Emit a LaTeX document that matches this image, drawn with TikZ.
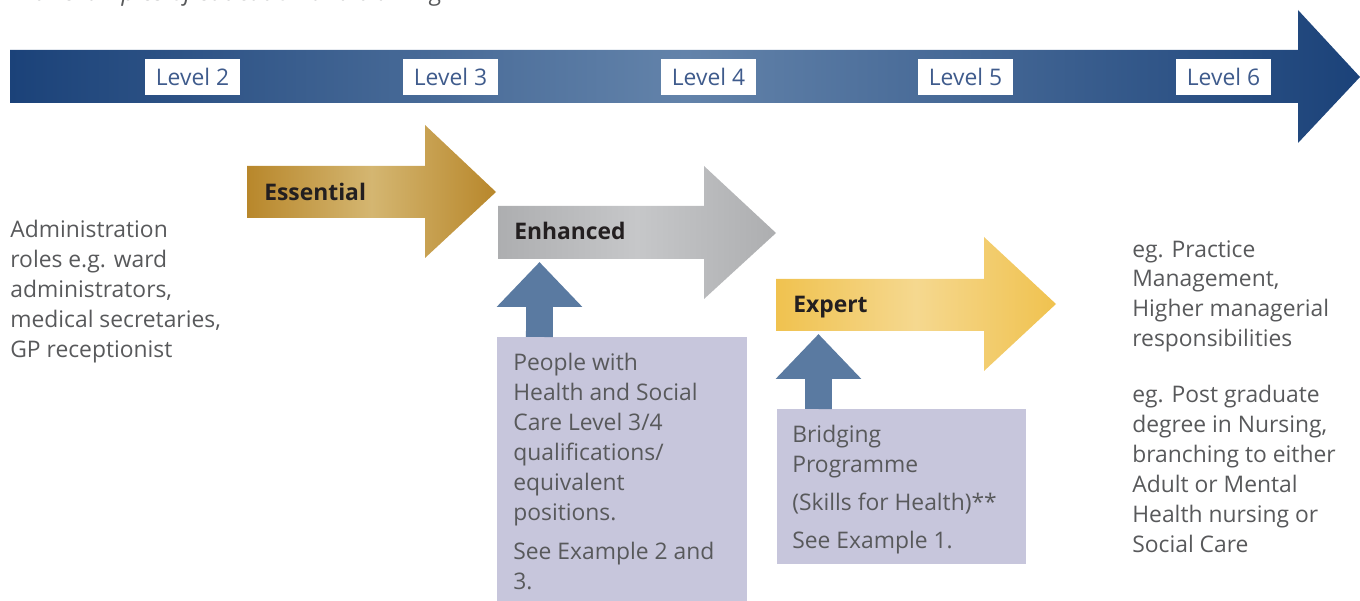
\documentclass[tikz,border=0pt]{standalone}
\usepackage{fontspec}
\setmainfont{Open Sans}
\usetikzlibrary{arrows.meta}

\definecolor{navy}{HTML}{1B4279}
\definecolor{navylight}{HTML}{6383AA}
\definecolor{leveltext}{HTML}{3F5B8C}
\definecolor{gold}{HTML}{B8872B}
\definecolor{goldlight}{HTML}{D4B671}
\definecolor{silver}{HTML}{ADAEB0}
\definecolor{silverlight}{HTML}{C6C7C9}
\definecolor{amber}{HTML}{F0C24F}
\definecolor{amberlight}{HTML}{F5D88F}
\definecolor{upblue}{HTML}{5A7AA1}
\definecolor{lavender}{HTML}{C7C6DC}
\definecolor{bodytext}{HTML}{58595B}
\definecolor{labeltext}{HTML}{231F20}

\begin{document}
\begin{tikzpicture}[x=0.02cm,y=-0.02cm]
\useasboundingbox (0,0) rectangle (1360,601);

\node[anchor=base west, inner sep=0pt, text=bodytext, font=\fontsize{13.8}{17}\selectfont\itshape] (subtitle) at (11,1) {with examples of education and training};

% levels arrow
\shade[left color=navy, right color=navy, middle color=navylight]
    (10,50) -- (1298,50) -- (1298,10) -- (1360,77) -- (1298,143) -- (1298,103) -- (10,103) -- cycle;

\begin{scope}[every node/.style={fill=white, text=leveltext, inner sep=0pt,
              minimum width=1.9cm, minimum height=0.72cm, font=\fontsize{13}{17}\selectfont}]
    \node (level_2) at (192.5,77) {Level 2};
    \node (level_3) at (450.5,77) {Level 3};
    \node (level_4) at (708.5,77) {Level 4};
    \node (level_5) at (965.5,77) {Level 5};
    \node (level_6) at (1223.5,77) {Level 6};
\end{scope}

% stage arrows
\shade[left color=gold, right color=gold, middle color=goldlight]
    (247,166) -- (425,166) -- (425,125) -- (496,192) -- (425,258) -- (425,218) -- (247,218) -- cycle;
\shade[left color=silver, right color=silver, middle color=silverlight]
    (498,206) -- (704,206) -- (704,166) -- (776,233) -- (704,299) -- (704,259) -- (498,259) -- cycle;
\shade[left color=amber, right color=amber, middle color=amberlight]
    (776,279) -- (984,279) -- (984,237) -- (1056,304) -- (984,371) -- (984,331) -- (776,331) -- cycle;

\begin{scope}[every node/.style={anchor=base west, inner sep=0pt, text=labeltext,
              font=\fontsize{13}{17}\selectfont\bfseries}]
    \node (essential) at (264,201) {Essential};
    \node (enhanced) at (514,240) {Enhanced};
    \node (expert) at (793,313) {Expert};
\end{scope}

% entry boxes
\begin{scope}[every node/.style={fill=lavender, anchor=north west, inner sep=0pt}]
    \node[minimum width=5cm, minimum height=5.4cm] (box_people) at (497,337) {};
    \node[minimum width=4.98cm, minimum height=3.1cm] (box_bridging) at (777,409) {};
\end{scope}

\begin{scope}[every node/.style={anchor=north west, inner sep=0pt, align=left, text=bodytext,
              font=\fontsize{13}{17}\selectfont}]
    \node (people_text) at (513,353) {People with\\Health and Social\\Care Level 3/4\\qualifications/\\equivalent\\positions.\\[5.5pt]See Example 2 and\\3.};
    \node (bridging_text) at (792,425) {Bridging\\Programme\\[4.5pt](Skills for Health)**\\[4.5pt]See Example 1.};
    \node (admin_text) at (10,220) {Administration\\roles e.g. ward\\administrators,\\medical secretaries,\\GP receptionist};
    \node (mgmt_text) at (1132,240) {eg. Practice\\Management,\\Higher managerial\\responsibilities};
    \node (nursing_text) at (1132,385) {eg. Post graduate\\degree in Nursing,\\branching to either\\Adult or Mental\\Health nursing or\\Social Care};
\end{scope}

\coordinate (enhanced_in) at (539.5,262);
\coordinate (expert_in) at (818.5,334);

\begin{scope}[>={Triangle[length=0.9cm, width=1.66cm]},
              every edge/.style={draw=upblue, line width=0.54cm}]
    \path [->] ([xshift=0.85cm]box_people.north west) edge (enhanced_in);
    \path [->] ([xshift=0.83cm]box_bridging.north west) edge (expert_in);
\end{scope}
\end{tikzpicture}
\end{document}
